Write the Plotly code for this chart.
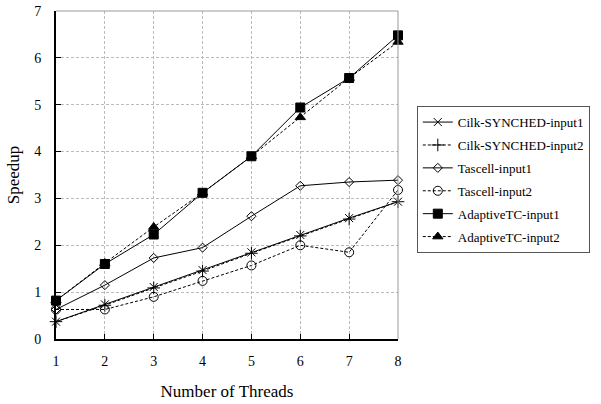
import plotly.graph_objects as go

threads = [1, 2, 3, 4, 5, 6, 7, 8]
cilk_in1 = [0.37, 0.74, 1.11, 1.47, 1.85, 2.22, 2.58, 2.93]
cilk_in2 = [0.37, 0.72, 1.09, 1.45, 1.83, 2.20, 2.56, 2.93]
tascell_in1 = [0.63, 1.15, 1.73, 1.95, 2.62, 3.27, 3.35, 3.39]
tascell_in2 = [0.63, 0.63, 0.90, 1.24, 1.57, 2.00, 1.85, 3.18]
adaptive_in1 = [0.82, 1.60, 2.23, 3.12, 3.90, 4.94, 5.57, 6.48]
adaptive_in2 = [0.82, 1.62, 2.39, 3.12, 3.90, 4.73, 5.57, 6.34]

names = ["Cilk-SYNCHED-input1", "Cilk-SYNCHED-input2", "Tascell-input1",
         "Tascell-input2", "AdaptiveTC-input1", "AdaptiveTC-input2"]
series = [cilk_in1, cilk_in2, tascell_in1, tascell_in2, adaptive_in1, adaptive_in2]
styles = [
    dict(dash="solid", symbol="x-thin", size=8),
    dict(dash="3px,2px", symbol="cross-thin", size=9),
    dict(dash="solid", symbol="diamond-open", size=7),
    dict(dash="3px,2px", symbol="circle-open", size=9),
    dict(dash="solid", symbol="square", size=9),
    dict(dash="3px,2px", symbol="triangle-up", size=9),
]

fig = go.Figure()
for i, (name, ys, st) in enumerate(zip(names, series, styles)):
    fig.add_trace(go.Scatter(
        x=threads, y=ys, name=name, mode="lines+markers", legendgroup=f"g{i}",
        line=dict(color="black", width=1, dash=st["dash"]),
        marker=dict(symbol=st["symbol"], size=st["size"], color="black",
                    line=dict(color="black", width=1)),
        cliponaxis=False,
    ))

font = "Liberation Serif, Times New Roman, serif"
fig.update_layout(
    width=601, height=404,
    margin=dict(l=56, r=201, t=11, b=65),
    paper_bgcolor="white", plot_bgcolor="white",
    font=dict(family=font, size=14, color="black"),
    showlegend=True,
    legend=dict(x=1.055, y=0.71, xanchor="left", yanchor="top",
                bordercolor="#555555", borderwidth=1,
                font=dict(family=font, size=13, color="black"),
                tracegroupgap=3, itemwidth=30),
    xaxis=dict(range=[1, 8], tickvals=threads, ticks="inside", ticklen=5,
               tickcolor="black", showline=True, linecolor="black", linewidth=2,
               showgrid=True, gridcolor="#bbbbbb", griddash="3px,2px", gridwidth=1,
               zeroline=False, automargin=False, ticklabelstandoff=8,
               title=dict(text="Number of Threads", standoff=17),
               tickfont=dict(size=14)),
    yaxis=dict(range=[0, 7], dtick=1, ticks="inside", ticklen=5,
               tickcolor="black", showline=True, linecolor="black", linewidth=2,
               showgrid=True, gridcolor="#bbbbbb", griddash="3px,2px", gridwidth=1,
               zeroline=False, automargin=False, ticklabelstandoff=10,
               title=dict(text="Speedup", standoff=10),
               tickfont=dict(size=14)),
    shapes=[
        dict(type="line", xref="paper", yref="paper", x0=0, x1=1, y0=1, y1=1,
             line=dict(color="#999999", width=1)),
        dict(type="line", xref="paper", yref="paper", x0=1, x1=1, y0=0, y1=1,
             line=dict(color="#999999", width=1)),
    ],
)

fig.write_html("out.html", config={"displayModeBar": False},
               post_script="document.body.style.margin='0px';")
